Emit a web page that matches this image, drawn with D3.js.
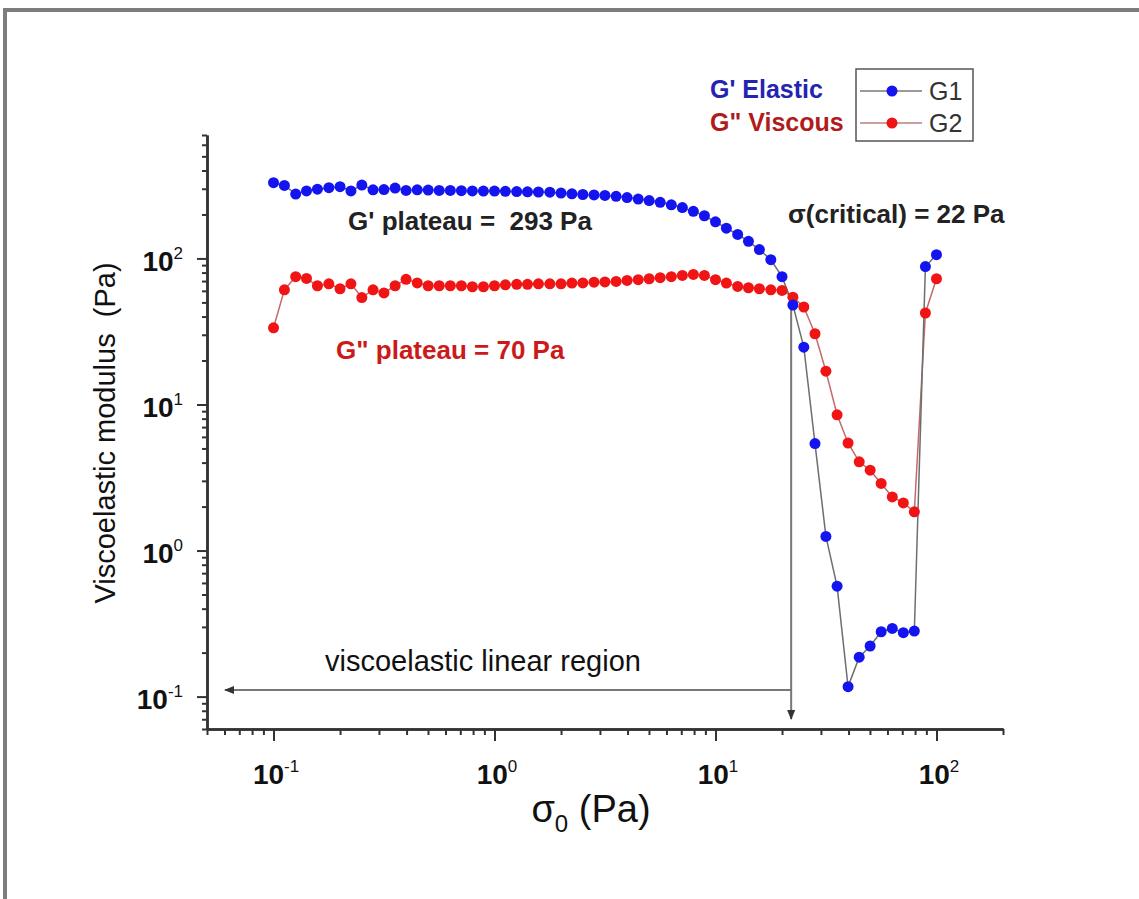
<!DOCTYPE html>
<html>
<head>
<meta charset="utf-8">
<script src="https://cdn.jsdelivr.net/npm/d3@7"></script>
<style>
  html, body { margin: 0; padding: 0; background: #fff; }
  svg { display: block; font-family: "Liberation Sans", Arial, sans-serif; }
  svg text { white-space: pre; }
</style>
</head>
<body>
<div id="chart"></div>
<script>
// Stress sweep values (Pa)
const stress = [
  0.1, 0.112, 0.126, 0.141, 0.158, 0.178, 0.2, 0.224, 0.251, 0.282,
  0.316, 0.355, 0.398, 0.447, 0.501, 0.562, 0.631, 0.708, 0.794, 0.891,
  1, 1.12, 1.26, 1.41, 1.58, 1.78, 2, 2.24, 2.51, 2.82,
  3.16, 3.55, 3.98, 4.47, 5.01, 5.62, 6.31, 7.08, 7.94, 8.91,
  10, 11.2, 12.6, 14.1, 15.8, 17.8, 20, 22.4, 25.1, 28.2,
  31.6, 35.5, 39.8, 44.7, 50.1, 56.2, 63.1, 70.8, 79.4, 89.1, 100
];

// G' elastic modulus (Pa)
const g1 = [
  330, 316, 276, 290, 298, 305, 310, 290, 318, 295,
  296, 303, 292, 295, 294, 292, 292, 291, 290, 289,
  289, 288, 287, 286, 285, 284, 280, 277, 274, 272,
  270, 266, 261, 255, 249, 242, 233, 223, 210, 196,
  178, 161, 146, 131, 115, 98, 75, 48, 24.7, 5.4,
  1.25, 0.57, 0.117, 0.186, 0.222, 0.278, 0.293, 0.274, 0.281, 88, 106
];

// G'' viscous modulus (Pa)
const g2 = [
  33.5, 61, 75, 73, 65, 67, 62, 67, 54, 61,
  58, 65, 72, 68, 65, 65, 65, 65, 64, 64,
  65, 66, 66.5, 66.5, 67, 67, 67, 67.8, 68, 68.8,
  69, 69.6, 70.7, 71.5, 72.6, 73.8, 75, 76.5, 77.7, 76.5,
  71.5, 67.8, 64.3, 63, 62, 61, 60.4, 54.3, 46.5, 30.5,
  16.9, 8.5, 5.45, 4.05, 3.55, 2.88, 2.33, 2.12, 1.84, 42.3, 72.6
];

// Axis ticks
const xMajor = [0.1, 1, 10, 100];
const xMinor = [0.05, 0.06, 0.07, 0.08, 0.09, 0.2, 0.3, 0.4, 0.5, 0.6, 0.7, 0.8, 0.9,
  2, 3, 4, 5, 6, 7, 8, 9, 20, 30, 40, 50, 60, 70, 80, 90, 200];
const yMajor = [0.1, 1, 10, 100];
const yMinor = [0.06, 0.07, 0.08, 0.09, 0.2, 0.3, 0.4, 0.5, 0.6, 0.7, 0.8, 0.9,
  2, 3, 4, 5, 6, 7, 8, 9, 20, 30, 40, 50, 60, 70, 80, 90, 200, 300, 400, 500, 600, 700];
const tickExp = { 0.1: "-1", 1: "0", 10: "1", 100: "2" };

const criticalStress = 22;

const width = 1139;
const height = 899;

const svg = d3.select("#chart")
  .append("svg")
  .attr("width", width)
  .attr("height", height);

// Outer frame of the figure (cut off at right and bottom)
svg.append("rect")
  .attr("x", 5)
  .attr("y", 10)
  .attr("width", 1300)
  .attr("height", 1200)
  .attr("fill", "none")
  .attr("stroke", "#7d7d7d")
  .attr("stroke-width", 4);

const x = d3.scaleLog().domain([0.05, 200]).range([207, 1003]);
const y = d3.scaleLog().domain([0.06, 700]).range([729, 135]);

// Arrow head
svg.append("defs").append("marker")
  .attr("id", "arrow")
  .attr("viewBox", "0 0 10 10")
  .attr("refX", 9)
  .attr("refY", 5)
  .attr("markerWidth", 5)
  .attr("markerHeight", 5)
  .attr("markerUnits", "strokeWidth")
  .attr("orient", "auto")
  .append("path")
  .attr("d", "M0,1 L10,5 L0,9 Z")
  .attr("fill", "#333");

// Axes
function styleAxis(g) {
  g.selectAll("path.domain").attr("stroke", "#333").attr("stroke-width", 2.5);
  g.selectAll(".tick line").attr("stroke", "#333").attr("stroke-width", 2);
}

svg.append("g")
  .attr("transform", "translate(0,729)")
  .call(d3.axisBottom(x).tickValues(xMinor).tickSize(6).tickSizeOuter(0).tickFormat(""))
  .call(styleAxis);

const xAxis = svg.append("g")
  .attr("transform", "translate(0,729)")
  .call(d3.axisBottom(x).tickValues(xMajor).tickSize(12).tickSizeOuter(0).tickPadding(23))
  .call(styleAxis);

svg.append("g")
  .attr("transform", "translate(207,0)")
  .call(d3.axisLeft(y).tickValues(yMinor).tickSize(5).tickSizeOuter(0).tickFormat(""))
  .call(styleAxis);

const yAxis = svg.append("g")
  .attr("transform", "translate(207,0)")
  .call(d3.axisLeft(y).tickValues(yMajor).tickSize(10).tickSizeOuter(0).tickPadding(14))
  .call(styleAxis);

// Power-of-ten tick labels
function powerLabels(g) {
  g.selectAll(".tick text")
    .attr("fill", "#111")
    .attr("font-size", 28)
    .attr("font-weight", "bold")
    .attr("font-family", "'Liberation Sans', Arial, sans-serif")
    .each(function(d) {
      const t = d3.select(this).text(null);
      t.append("tspan").text("10");
      t.append("tspan")
        .attr("font-size", 17)
        .attr("font-weight", "normal")
        .attr("dy", -12)
        .text(tickExp[d]);
    });
}
xAxis.call(powerLabels);
xAxis.selectAll(".tick text").attr("dy", "0.71em").attr("x", 2);
yAxis.call(powerLabels);
yAxis.selectAll(".tick text").attr("dy", "0.43em");

// Axis titles
const xTitle = svg.append("text")
  .attr("x", 591)
  .attr("y", 822)
  .attr("text-anchor", "middle")
  .attr("font-size", 38)
  .attr("fill", "#111");
xTitle.append("tspan").text("σ");
xTitle.append("tspan").attr("font-size", 24).attr("dy", 10).text("0");
xTitle.append("tspan").attr("dy", -10).text(" (Pa)");

svg.append("text")
  .attr("transform", "translate(115,433) rotate(-90)")
  .attr("text-anchor", "middle")
  .attr("font-size", 29)
  .attr("fill", "#111")
  .text("Viscoelastic modulus  (Pa)");

// Series lines
const line = d3.line()
  .x((d, i) => x(stress[i]))
  .y(d => y(d));

svg.append("path")
  .datum(g2)
  .attr("d", line)
  .attr("fill", "none")
  .attr("stroke", "#c46a6a")
  .attr("stroke-width", 1.5);

svg.append("path")
  .datum(g1)
  .attr("d", line)
  .attr("fill", "none")
  .attr("stroke", "#6e6e6e")
  .attr("stroke-width", 1.5);

// Annotation arrows at critical stress
svg.append("line")
  .attr("x1", x(criticalStress))
  .attr("y1", y(54))
  .attr("x2", x(criticalStress))
  .attr("y2", 719)
  .attr("stroke", "#777")
  .attr("stroke-width", 2)
  .attr("marker-end", "url(#arrow)");

svg.append("line")
  .attr("x1", x(criticalStress))
  .attr("y1", 690)
  .attr("x2", 225)
  .attr("y2", 690)
  .attr("stroke", "#777")
  .attr("stroke-width", 2)
  .attr("marker-end", "url(#arrow)");

// Series points
svg.append("g")
  .selectAll("circle")
  .data(g2)
  .enter()
  .append("circle")
  .attr("cx", (d, i) => x(stress[i]))
  .attr("cy", d => y(d))
  .attr("r", 5.5)
  .attr("fill", "#f01414");

svg.append("g")
  .selectAll("circle")
  .data(g1)
  .enter()
  .append("circle")
  .attr("cx", (d, i) => x(stress[i]))
  .attr("cy", d => y(d))
  .attr("r", 5.5)
  .attr("fill", "#1414f0");

// Text annotations
svg.append("text")
  .attr("x", 348).attr("y", 230)
  .attr("font-size", 26)
  .attr("font-weight", "bold")
  .attr("fill", "#222")
  .text("G' plateau =  293 Pa");

svg.append("text")
  .attr("x", 336).attr("y", 359)
  .attr("font-size", 26)
  .attr("font-weight", "bold")
  .attr("fill", "#cc1a1a")
  .text("G\" plateau = 70 Pa");

svg.append("text")
  .attr("x", 788).attr("y", 223)
  .attr("font-size", 26)
  .attr("font-weight", "bold")
  .attr("fill", "#222")
  .text("σ(critical) = 22 Pa");

svg.append("text")
  .attr("x", 325).attr("y", 671)
  .attr("font-size", 29)
  .attr("fill", "#111")
  .text("viscoelastic linear region");

// Legend
svg.append("text")
  .attr("x", 710).attr("y", 98)
  .attr("font-size", 25)
  .attr("font-weight", "bold")
  .attr("fill", "#2424b4")
  .text("G' Elastic");

svg.append("text")
  .attr("x", 710).attr("y", 131)
  .attr("font-size", 25)
  .attr("font-weight", "bold")
  .attr("fill", "#b01c1c")
  .text("G\" Viscous");

svg.append("rect")
  .attr("x", 856).attr("y", 69)
  .attr("width", 117).attr("height", 72)
  .attr("fill", "none")
  .attr("stroke", "#555")
  .attr("stroke-width", 1.5);

const legendItems = [
  { name: "G1", line: "#9a9a9a", dot: "#1414f0", y: 91 },
  { name: "G2", line: "#c9a0a0", dot: "#f01414", y: 123 }
];

legendItems.forEach(item => {
  svg.append("line")
    .attr("x1", 860).attr("x2", 922)
    .attr("y1", item.y).attr("y2", item.y)
    .attr("stroke", item.line)
    .attr("stroke-width", 2);
  svg.append("circle")
    .attr("cx", 892).attr("cy", item.y)
    .attr("r", 5.5)
    .attr("fill", item.dot);
  svg.append("text")
    .attr("x", 929).attr("y", item.y + 9)
    .attr("font-size", 25)
    .attr("fill", "#333")
    .text(item.name);
});
</script>
</body>
</html>
